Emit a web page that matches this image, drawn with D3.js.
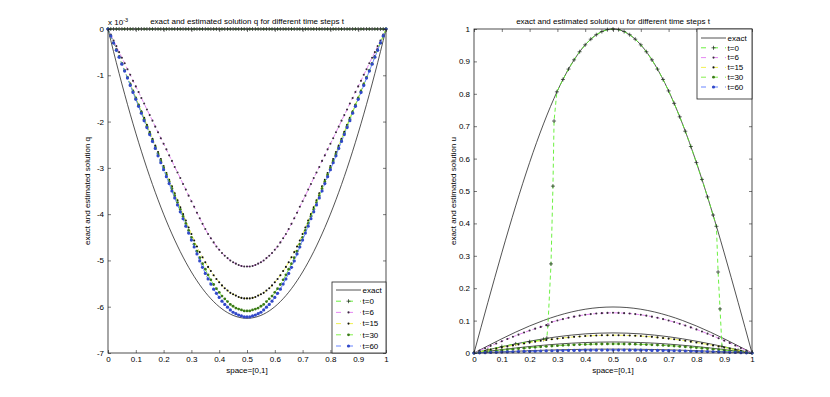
<!DOCTYPE html>
<meta charset="utf-8">
<style>
body { margin: 0; background: #fff; }
</style>
<body>
<script src="https://cdn.jsdelivr.net/npm/d3@7"></script>
<script>
// ---- data (q values are in units of 1e-3) ----
var xs = [0,0.02,0.04,0.06,0.08,0.1,0.12,0.14,0.16,0.18,0.2,0.22,0.24,0.26,0.28,0.3,0.32,0.34,0.36,0.38,0.4,0.42,0.44,0.46,0.48,0.5,
          0.52,0.54,0.56,0.58,0.6,0.62,0.64,0.66,0.68,0.7,0.72,0.74,0.76,0.78,0.8,0.82,0.84,0.86,0.88,0.9,0.92,0.94,0.96,0.98,1];
var xsFine = [0,0.01,0.02,0.03,0.04,0.05,0.06,0.07,0.08,0.09,0.1,0.11,0.12,0.13,0.14,0.15,0.16,0.17,0.18,0.19,0.2,0.21,0.22,0.23,0.24,0.25,
              0.26,0.27,0.28,0.29,0.3,0.31,0.32,0.33,0.34,0.35,0.36,0.37,0.38,0.39,0.4,0.41,0.42,0.43,0.44,0.45,0.46,0.47,0.48,0.49,0.5,
              0.51,0.52,0.53,0.54,0.55,0.56,0.57,0.58,0.59,0.6,0.61,0.62,0.63,0.64,0.65,0.66,0.67,0.68,0.69,0.7,0.71,0.72,0.73,0.74,0.75,
              0.76,0.77,0.78,0.79,0.8,0.81,0.82,0.83,0.84,0.85,0.86,0.87,0.88,0.89,0.9,0.91,0.92,0.93,0.94,0.95,0.96,0.97,0.98,0.99,1];
var xCoarse = [0,0.05,0.1,0.15,0.2,0.25,0.3,0.35,0.4,0.45,0.5,0.55,0.6,0.65,0.7,0.75,0.8,0.85,0.9,0.95,1];

var qExact = [0,-0.49,-0.96,-1.41,-1.84,-2.25,-2.64,-3.01,-3.36,-3.69,-4.00,-4.29,-4.56,-4.81,-5.04,-5.25,-5.44,-5.61,-5.76,-5.89,-6.00,-6.09,-6.16,-6.21,-6.24,-6.25,
              -6.24,-6.21,-6.16,-6.09,-6.00,-5.89,-5.76,-5.61,-5.44,-5.25,-5.04,-4.81,-4.56,-4.29,-4.00,-3.69,-3.36,-3.01,-2.64,-2.25,-1.84,-1.41,-0.96,-0.49,0];
var qT0 = [0,0,0,0,0,0,0,0,0,0,0,0,0,0,0,0,0,0,0,0,0,0,0,0,0,0,0,0,0,0,0,0,0,0,0,0,0,0,0,0,0,0,0,0,0,0,0,0,0,0,0,
           0,0,0,0,0,0,0,0,0,0,0,0,0,0,0,0,0,0,0,0,0,0,0,0,0,0,0,0,0,0,0,0,0,0,0,0,0,0,0,0,0,0,0,0,0,0,0,0,0,0];
var qT6 = [0,-0.12,-0.25,-0.37,-0.50,-0.62,-0.74,-0.87,-0.99,-1.12,-1.24,-1.36,-1.49,-1.61,-1.74,-1.86,-1.98,-2.11,-2.23,-2.36,-2.48,-2.60,-2.73,-2.85,-2.98,-3.10,
           -3.22,-3.35,-3.47,-3.60,-3.72,-3.84,-3.97,-4.09,-4.21,-4.32,-4.43,-4.52,-4.61,-4.70,-4.77,-4.84,-4.90,-4.95,-5.00,-5.04,-5.07,-5.10,-5.12,-5.13,-5.13,
           -5.13,-5.12,-5.10,-5.07,-5.04,-5.00,-4.95,-4.90,-4.84,-4.77,-4.70,-4.61,-4.52,-4.43,-4.32,-4.21,-4.09,-3.97,-3.84,-3.72,-3.60,-3.47,-3.35,-3.22,
           -3.10,-2.98,-2.85,-2.73,-2.60,-2.48,-2.36,-2.23,-2.11,-1.98,-1.86,-1.74,-1.61,-1.49,-1.36,-1.24,-1.12,-0.99,-0.87,-0.74,-0.62,-0.50,-0.37,-0.25,-0.12,0];
var qT15 = [0,-0.15,-0.30,-0.44,-0.59,-0.74,-0.89,-1.04,-1.18,-1.33,-1.48,-1.63,-1.78,-1.92,-2.07,-2.22,-2.37,-2.52,-2.66,-2.81,-2.96,-3.11,-3.26,-3.40,-3.55,-3.70,
            -3.85,-4.00,-4.14,-4.29,-4.43,-4.57,-4.70,-4.82,-4.93,-5.04,-5.14,-5.23,-5.32,-5.40,-5.47,-5.54,-5.60,-5.65,-5.70,-5.73,-5.76,-5.79,-5.81,-5.82,-5.82,
            -5.82,-5.81,-5.79,-5.76,-5.73,-5.70,-5.65,-5.60,-5.54,-5.47,-5.40,-5.32,-5.23,-5.14,-5.04,-4.93,-4.82,-4.70,-4.57,-4.43,-4.29,-4.14,-4.00,-3.85,
            -3.70,-3.55,-3.40,-3.26,-3.11,-2.96,-2.81,-2.66,-2.52,-2.37,-2.22,-2.07,-1.92,-1.78,-1.63,-1.48,-1.33,-1.18,-1.04,-0.89,-0.74,-0.59,-0.44,-0.30,-0.15,0];
var qT30 = [0,-0.15,-0.30,-0.45,-0.60,-0.75,-0.90,-1.05,-1.20,-1.35,-1.50,-1.65,-1.80,-1.95,-2.10,-2.25,-2.40,-2.55,-2.70,-2.85,-3.00,-3.15,-3.30,-3.45,-3.60,-3.75,
            -3.90,-4.05,-4.20,-4.35,-4.50,-4.65,-4.80,-4.94,-5.07,-5.19,-5.31,-5.42,-5.52,-5.61,-5.69,-5.77,-5.83,-5.89,-5.95,-5.99,-6.03,-6.05,-6.07,-6.09,-6.09,
            -6.09,-6.07,-6.05,-6.03,-5.99,-5.95,-5.89,-5.83,-5.77,-5.69,-5.61,-5.52,-5.42,-5.31,-5.19,-5.07,-4.94,-4.80,-4.65,-4.50,-4.35,-4.20,-4.05,-3.90,
            -3.75,-3.60,-3.45,-3.30,-3.15,-3.00,-2.85,-2.70,-2.55,-2.40,-2.25,-2.10,-1.95,-1.80,-1.65,-1.50,-1.35,-1.20,-1.05,-0.90,-0.75,-0.60,-0.45,-0.30,-0.15,0];
var qT60 = [0,-0.15,-0.30,-0.46,-0.61,-0.76,-0.91,-1.06,-1.22,-1.37,-1.52,-1.67,-1.82,-1.98,-2.13,-2.28,-2.43,-2.58,-2.74,-2.89,-3.04,-3.19,-3.34,-3.50,-3.65,-3.80,
            -3.95,-4.10,-4.26,-4.41,-4.56,-4.71,-4.86,-5.01,-5.15,-5.28,-5.40,-5.51,-5.62,-5.71,-5.80,-5.88,-5.95,-6.01,-6.07,-6.12,-6.15,-6.18,-6.20,-6.22,-6.22,
            -6.22,-6.20,-6.18,-6.15,-6.12,-6.07,-6.01,-5.95,-5.88,-5.80,-5.71,-5.62,-5.51,-5.40,-5.28,-5.15,-5.01,-4.86,-4.71,-4.56,-4.41,-4.26,-4.10,-3.95,
            -3.80,-3.65,-3.50,-3.34,-3.19,-3.04,-2.89,-2.74,-2.58,-2.43,-2.28,-2.13,-1.98,-1.82,-1.67,-1.52,-1.37,-1.22,-1.06,-0.91,-0.76,-0.61,-0.46,-0.30,-0.15,0];

var uExact0  = [0,.1564,.3090,.4540,.5878,.7071,.8090,.8910,.9511,.9877,1,.9877,.9511,.8910,.8090,.7071,.5878,.4540,.3090,.1564,0];
var uExact6  = [0,.0222,.0439,.0645,.0835,.1004,.1149,.1265,.1351,.1403,.142,.1403,.1351,.1265,.1149,.1004,.0835,.0645,.0439,.0222,0];
var uExact15 = [0,.0097,.0192,.0281,.0364,.0438,.0502,.0552,.0590,.0612,.062,.0612,.0590,.0552,.0502,.0438,.0364,.0281,.0192,.0097,0];
var uExact30 = [0,.0053,.0105,.0154,.0200,.0240,.0275,.0303,.0323,.0336,.034,.0336,.0323,.0303,.0275,.0240,.0200,.0154,.0105,.0053,0];
var uExact60 = [0,.0019,.0037,.0054,.0071,.0085,.0097,.0107,.0114,.0119,.012,.0119,.0114,.0107,.0097,.0085,.0071,.0054,.0037,.0019,0];

var uT0x = [0,0.05,0.1,0.15,0.2,0.25,0.262,0.266,0.277,0.284,0.288,0.298,
            0.32,0.34,0.36,0.38,0.4,0.42,0.44,0.46,0.48,0.5,0.52,0.54,0.56,0.58,0.6,0.62,0.64,0.66,0.68,0.7,0.72,0.74,0.76,0.78,0.8,0.82,0.84,0.86,
            0.872,0.878,0.885,0.892,0.95,1];
var uT0 = [0,0.01,0.02,0.028,0.035,0.042,0.046,0.086,0.275,0.515,0.716,0.806,
           .8443,.8763,.9048,.9298,.9511,.9686,.9823,.9921,.9980,1,.9980,.9921,.9823,.9686,.9511,.9298,.9048,.8763,.8443,.8090,.7705,.7290,.6845,.6374,.5878,.5358,.4818,.4258,
           0.391,0.25,0.136,0.02,0.008,0];
var uT6 = [0,.0074,.0147,.0220,.0293,.0364,.0433,.0501,.0567,.0631,.0693,.0751,.0806,.0859,.0955,.1003,.1047,.1087,.1122,.1153,.1179,.1201,.1218,.1230,.1238,.124,
           .1238,.1230,.1218,.1201,.1179,.1153,.1122,.1087,.1047,.1003,.0955,.0904,.0849,.0790,.0729,.0664,.0597,.0528,.0456,.0383,.0308,.0232,.0155,.0078,0];
var uT15 = [0,.0035,.0069,.0103,.0137,.0170,.0202,.0234,.0265,.0295,.0323,.0351,.0376,.0401,.0424,.0445,.0464,.0482,.0498,.0511,.0523,.0533,.0540,.0546,.0549,.055,
            .0549,.0546,.0540,.0533,.0523,.0511,.0498,.0482,.0464,.0445,.0424,.0401,.0376,.0351,.0323,.0295,.0265,.0234,.0202,.0170,.0137,.0103,.0069,.0035,0];
var uT30 = [0,.0018,.0035,.0052,.0070,.0087,.0103,.0119,.0135,.0150,.0165,.0178,.0192,.0204,.0216,.0227,.0236,.0245,.0253,.0260,.0266,.0271,.0275,.0278,.0279,.028,
            .0279,.0278,.0275,.0271,.0266,.0260,.0253,.0245,.0236,.0227,.0216,.0204,.0192,.0178,.0165,.0150,.0135,.0119,.0103,.0087,.0070,.0052,.0035,.0018,0];
var uT60 = [0,.0006,.0011,.0017,.0022,.0028,.0033,.0038,.0043,.0048,.0053,.0057,.0062,.0066,.0069,.0073,.0076,.0079,.0081,.0084,.0086,.0087,.0088,.0089,.0090,.009,
            .0090,.0089,.0088,.0087,.0086,.0084,.0081,.0079,.0076,.0073,.0069,.0066,.0062,.0057,.0053,.0048,.0043,.0038,.0033,.0028,.0022,.0017,.0011,.0006,0];

var legendNames = ["exact", "t=0", "t=6", "t=15", "t=30", "t=60"];
var xTicks = [0,0.1,0.2,0.3,0.4,0.5,0.6,0.7,0.8,0.9,1];
var qTicks = [0,-1,-2,-3,-4,-5,-6,-7];
var uTicks = [0,0.1,0.2,0.3,0.4,0.5,0.6,0.7,0.8,0.9,1];

// ---- styles ----
var font = '"Liberation Sans", Arial, Helvetica, sans-serif',
    fs = 8;
var styles = {
  "t=0":  {line: "#5aee2a", marker: "plus", mcol: "#1d2a1d", r: 2},
  "t=6":  {line: "#e27af0", marker: "dot",  mcol: "#3a2a3e", r: 1.05},
  "t=15": {line: "#eeee40", marker: "dot",  mcol: "#111111", r: 1.05},
  "t=30": {line: "#78ee3a", marker: "dot",  mcol: "#3b7a18", r: 1.4},
  "t=60": {line: "#5a78ff", marker: "dot",  mcol: "#3148c8", r: 1.6}
};

var svg = d3.select("body").append("svg")
    .attr("width", 830)
    .attr("height", 397)
    .style("font-family", font);

function drawMarkers(g, pts, st) {
  if (st.marker == "plus") {
    g.selectAll(null).data(pts).enter().append("path")
      .attr("d", function(d) { return "M" + (d[0]-st.r) + "," + d[1] + "H" + (d[0]+st.r) + "M" + d[0] + "," + (d[1]-st.r) + "V" + (d[1]+st.r); })
      .attr("stroke", st.mcol).attr("stroke-width", 0.7).attr("fill", "none");
  } else {
    g.selectAll(null).data(pts).enter().append("circle")
      .attr("cx", function(d) { return d[0]; })
      .attr("cy", function(d) { return d[1]; })
      .attr("r", st.r)
      .attr("fill", st.mcol);
  }
}

function panel(cfg) {
  var x = d3.scaleLinear().domain([0, 1]).range([cfg.left, cfg.right]),
      y = d3.scaleLinear().domain(cfg.ydom).range([cfg.bottom, cfg.top]);
  var g = svg.append("g");

  g.append("rect")
    .attr("x", cfg.left).attr("y", cfg.top)
    .attr("width", cfg.right - cfg.left).attr("height", cfg.bottom - cfg.top)
    .attr("fill", "#fff");

  var line = d3.line().x(function(d) { return x(d[0]); }).y(function(d) { return y(d[1]); });
  var smooth = d3.line().curve(d3.curveNatural).x(function(d) { return x(d[0]); }).y(function(d) { return y(d[1]); });

  cfg.exact.forEach(function(e) {
    g.append("path")
      .attr("d", smooth(d3.zip(e[0], e[1])))
      .attr("fill", "none").attr("stroke", "#1a1a1a").attr("stroke-width", 0.75);
  });

  cfg.series.forEach(function(s) {
    var st = styles[s.name], pts = d3.zip(s.x, s.y);
    g.append("path")
      .attr("d", line(pts))
      .attr("fill", "none").attr("stroke", st.line).attr("stroke-width", 0.9)
      .attr("stroke-dasharray", "4,3");
    drawMarkers(g.append("g"), pts.map(function(p) { return [x(p[0]), y(p[1])]; }), st);
  });

  // axes, MATLAB style ticks inside
  function styleAxis(a) {
    a.attr("font-size", fs).attr("font-family", font);
    a.select(".domain").remove();
    a.selectAll("line").attr("stroke", "#222").attr("stroke-width", 0.6);
    a.selectAll("text").attr("fill", "#000");
  }
  g.append("g").attr("transform", "translate(0," + cfg.bottom + ")")
    .call(d3.axisBottom(x).tickValues(xTicks).tickSize(-3).tickPadding(3).tickFormat(d3.format("~g")))
    .call(styleAxis);
  g.append("g").attr("transform", "translate(0," + cfg.top + ")")
    .call(d3.axisTop(x).tickValues(xTicks).tickSize(-3).tickFormat(""))
    .call(styleAxis);
  g.append("g").attr("transform", "translate(" + cfg.left + ",0)")
    .call(d3.axisLeft(y).tickValues(cfg.yticks).tickSize(-3).tickPadding(4).tickFormat(function(d) { return String(d); }))
    .call(styleAxis);
  g.append("g").attr("transform", "translate(" + cfg.right + ",0)")
    .call(d3.axisRight(y).tickValues(cfg.yticks).tickSize(-3).tickFormat(""))
    .call(styleAxis);

  g.append("rect")
    .attr("x", cfg.left).attr("y", cfg.top)
    .attr("width", cfg.right - cfg.left).attr("height", cfg.bottom - cfg.top)
    .attr("fill", "none").attr("stroke", "#222").attr("stroke-width", 0.8);

  var cx = (cfg.left + cfg.right) / 2;
  g.append("text").attr("x", cx).attr("y", cfg.top - 5)
    .attr("text-anchor", "middle").attr("font-size", fs).text(cfg.title);
  g.append("text").attr("x", cx).attr("y", cfg.bottom + 19.5)
    .attr("text-anchor", "middle").attr("font-size", fs).text("space=[0,1]");
  g.append("text")
    .attr("transform", "translate(" + (cfg.left - 18) + "," + ((cfg.top + cfg.bottom) / 2) + ") rotate(-90)")
    .attr("text-anchor", "middle").attr("font-size", fs).text(cfg.ylabel);

  // legend
  var L = cfg.legend;
  var lg = g.append("g");
  lg.append("rect").attr("x", L.x).attr("y", L.y).attr("width", L.w).attr("height", L.h)
    .attr("fill", "#fff").attr("stroke", "#222").attr("stroke-width", 0.8);
  legendNames.forEach(function(name, i) {
    var yy = L.y + L.first + i * L.step,
        x0 = L.x + 4, x1 = L.x + 29;
    if (name == "exact") {
      lg.append("line").attr("x1", x0).attr("x2", x1).attr("y1", yy).attr("y2", yy)
        .attr("stroke", "#1a1a1a").attr("stroke-width", 0.75);
    } else {
      var st = styles[name];
      lg.append("line").attr("x1", x0).attr("x2", x1).attr("y1", yy).attr("y2", yy)
        .attr("stroke", st.line).attr("stroke-width", 0.9).attr("stroke-dasharray", "5,7");
      drawMarkers(lg.append("g"), [[(x0 + x1) / 2, yy]], st);
    }
    lg.append("text").attr("x", x1 + 1.5).attr("y", yy).attr("dy", "0.35em")
      .attr("font-size", fs).text(name);
  });
  return g;
}

var left = panel({
  left: 108, right: 386, top: 29, bottom: 353,
  ydom: [-7, 0], yticks: qTicks,
  title: "exact and estimated solution q for different time steps t",
  ylabel: "exact and estimated solution q",
  exact: [[xs, qExact]],
  series: [
    {name: "t=0", x: xsFine, y: qT0},
    {name: "t=6", x: xsFine, y: qT6},
    {name: "t=15", x: xsFine, y: qT15},
    {name: "t=30", x: xsFine, y: qT30},
    {name: "t=60", x: xsFine, y: qT60}
  ],
  legend: {x: 332, y: 282, w: 54, h: 71, first: 8, step: 11.2}
});

// exponent label of the q axis
var ex = left.append("text").attr("x", 108).attr("y", 25).attr("font-size", fs);
ex.append("tspan").text("x 10");
ex.append("tspan").attr("dy", -3).attr("font-size", 5.5).text("-3");

panel({
  left: 474, right: 752, top: 29, bottom: 353,
  ydom: [0, 1], yticks: uTicks,
  title: "exact and estimated solution u for different time steps t",
  ylabel: "exact and estimated solution u",
  exact: [[xCoarse, uExact0], [xCoarse, uExact6], [xCoarse, uExact15], [xCoarse, uExact30], [xCoarse, uExact60]],
  series: [
    {name: "t=0", x: uT0x, y: uT0},
    {name: "t=6", x: xs, y: uT6},
    {name: "t=15", x: xs, y: uT15},
    {name: "t=30", x: xs, y: uT30},
    {name: "t=60", x: xs, y: uT60}
  ],
  legend: {x: 697, y: 29, w: 55, h: 70, first: 9, step: 9.8}
});
</script>
